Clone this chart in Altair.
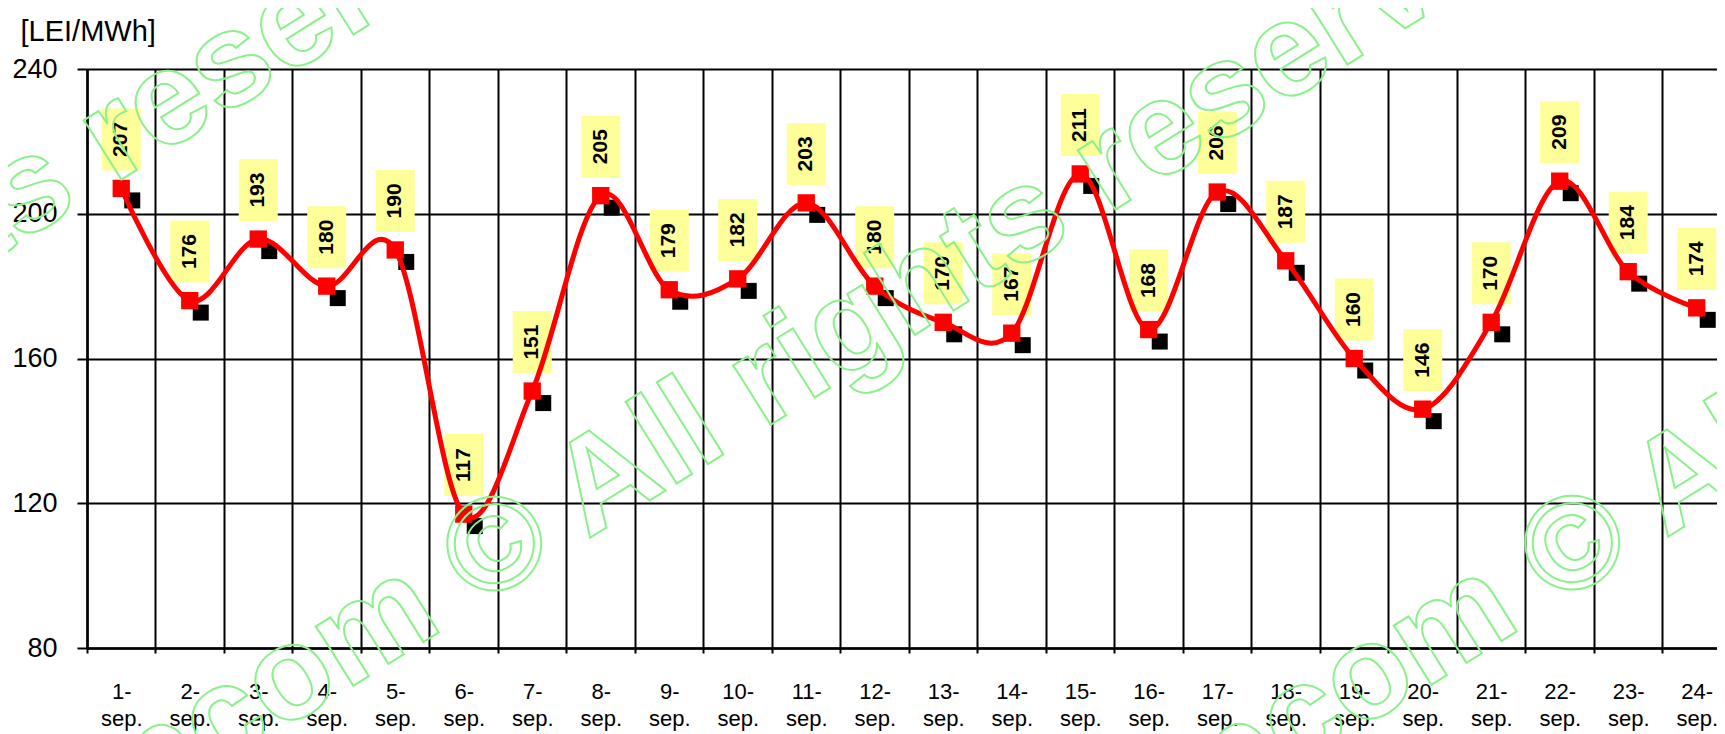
import json
import altair as alt
import pandas as pd

# ---- data ----
day_labels = ["1-sep.", "2-sep.", "3-sep.", "4-sep.", "5-sep.", "6-sep.", "7-sep.", "8-sep.",
              "9-sep.", "10-sep.", "11-sep.", "12-sep.", "13-sep.", "14-sep.", "15-sep.", "16-sep.",
              "17-sep.", "18-sep.", "19-sep.", "20-sep.", "21-sep.", "22-sep.", "23-sep.", "24-sep."]
day_index = list(range(1, 25))
prices = [207, 176, 193, 180, 190, 117, 151, 205, 179, 182, 203, 180,
          170, 167, 211, 168, 206, 187, 160, 146, 170, 209, 184, 174]
y_ticks = [80, 120, 160, 200, 240]
y_unit = "[LEI/MWh]"
watermark = "opcom \u00a9 All rights reserved"

df = pd.DataFrame({"day": day_index, "label": day_labels, "price": prices})
boundaries = [d - 0.5 for d in day_index]

FONT = "Liberation Sans"
W, H = 1630, 579
band = W / 23.796

lbl = f"{json.dumps(day_labels)}[round(datum.value - 0.5)]"
label_expr = f"[slice({lbl}, 0, indexof({lbl}, '-') + 1), slice({lbl}, indexof({lbl}, '-') + 1)]"

x_enc = alt.X(
    "day:Q",
    scale=alt.Scale(domain=[0.5, 24.296], nice=False, zero=False),
    axis=alt.Axis(
        values=boundaries, grid=True, gridColor="black", gridWidth=2, gridOpacity=1,
        ticks=True, tickSize=5, tickWidth=2, tickColor="black",
        domainColor="black", domainWidth=2.5,
        labelExpr=label_expr, labelOffset=band / 2, labelAlign="center", labelBaseline="top",
        labelPadding=28, labelFontSize=22, labelFont=FONT, labelColor="black",
        labelLineHeight=27, labelOverlap=False, labelBound=False, labelFlush=False,
        title=None,
    ),
)
y_enc = alt.Y(
    "price:Q",
    scale=alt.Scale(domain=[80, 240], nice=False, zero=False),
    axis=alt.Axis(
        values=y_ticks, grid=True, gridColor="black", gridWidth=2, gridOpacity=1,
        ticks=True, tickSize=10, tickWidth=2, tickColor="black",
        domainColor="black", domainWidth=2.5,
        labelFontSize=27, labelFont=FONT, labelColor="black", labelPadding=20,
        title=y_unit, titleAngle=0, titleX=-67, titleY=-38, titleAlign="left",
        titleBaseline="middle", titleFontSize=29, titleFontWeight="normal",
        titleFont=FONT, titleColor="black",
    ),
)

base = alt.Chart(df).encode(x=x_enc, y=y_enc)

boxes = base.mark_rect(width=39, height=62, yOffset=-49, color="#FFFF99", opacity=1)
texts = base.mark_text(angle=270, fontWeight="bold", fontSize=21, font=FONT, yOffset=-49,
                       align="center", baseline="middle", color="black").encode(text="price:Q")
shadows = base.mark_square(size=256, color="black", opacity=1, xOffset=11, yOffset=12)
line = base.mark_line(color="#FF0000", strokeWidth=5, interpolate="cardinal", tension=0)
points = base.mark_square(size=300, color="#FF0000", opacity=1)

wm_layers = []
for wx, wy in [(-1005, 760), (-11, 790), (1067, 789)]:
    wm_layers.append(
        alt.Chart(alt.Data(values=[{"t": watermark}])).mark_text(
            angle=328, fontSize=133, fontWeight="bold", font=FONT, align="left",
            baseline="alphabetic", fillOpacity=0, stroke="#8CF08C", strokeWidth=2,
        ).encode(x=alt.value(wx), y=alt.value(wy), text="t:N")
    )

chart = alt.layer(boxes, shadows, line, texts, points, *wm_layers).properties(
    width=W, height=H,
    autosize=alt.AutoSizeParams(type="none"),
    padding={"left": 79, "top": 61, "right": 0, "bottom": 86},
).configure_view(stroke=None).configure(background="white")

chart.save("out.html", embed_options={"renderer": "svg", "actions": False})
